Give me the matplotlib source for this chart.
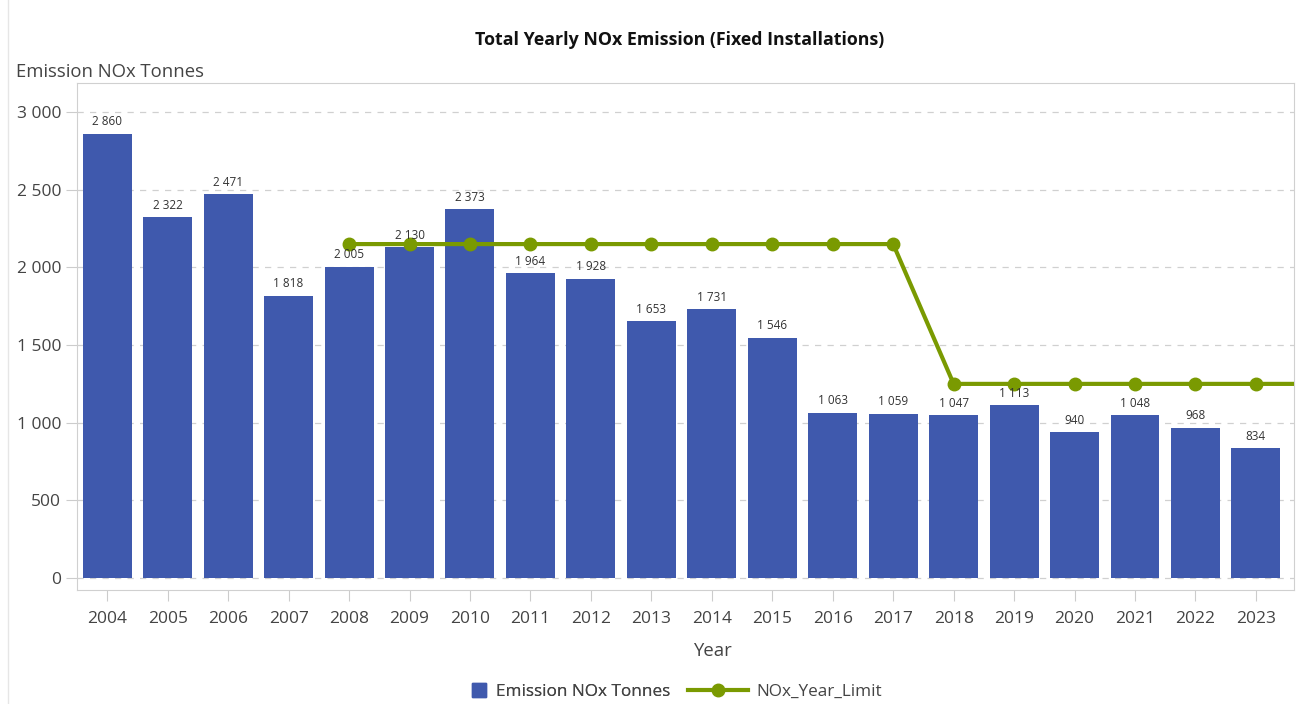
import matplotlib.pyplot as plt
from matplotlib.ticker import FuncFormatter
from matplotlib.lines import Line2D

plt.rcParams['font.family'] = ['Open Sans', 'DejaVu Sans']

years = list(range(2004, 2024))
emission = [2860, 2322, 2471, 1818, 2005, 2130, 2373, 1964, 1928, 1653,
            1731, 1546, 1063, 1059, 1047, 1113, 940, 1048, 968, 834]
limit_years = list(range(2008, 2025))
limit = [2150] * 10 + [1250] * 7

bar_color = '#3f59ad'
line_color = '#7a9a01'


def fmt(v):
    return '{:,}'.format(int(v)).replace(',', ' ')


fig = plt.figure(figsize=(12.96, 7.04), dpi=100)
ax = fig.add_axes([77 / 1296, 1 - 590 / 704, (1294 - 77) / 1296, (590 - 83) / 704])

x = [y - 2004 for y in years]
ax.bar(x, emission, width=0.81, color=bar_color, zorder=2)
for xi, v in zip(x, emission):
    ax.text(xi, v + 35, fmt(v), ha='center', va='bottom', fontsize=8.5, color='#333333', zorder=4)

lx = [y - 2004 for y in limit_years]
ax.plot(lx, limit, color=line_color, lw=3, marker='o', ms=9, zorder=3)

ax.set_xlim(-0.5, 19.63)
ax.set_ylim(-77, 3187)
ax.set_xticks(x)
ax.set_xticklabels([str(y) for y in years])
ax.set_yticks([0, 500, 1000, 1500, 2000, 2500, 3000])
ax.yaxis.set_major_formatter(FuncFormatter(lambda v, p: fmt(v)))
ax.tick_params(axis='both', labelsize=12.5, colors='#cccccc', labelcolor='#444444', length=8)
ax.tick_params(axis='x', pad=7)
ax.grid(axis='y', color='#d0d0d0', linestyle=(0, (5, 5)), lw=0.9, zorder=0)
for s in ax.spines.values():
    s.set_color('#d0d0d0')

fig.text(680 / 1296, 1 - 40 / 704, 'Total Yearly NOx Emission (Fixed Installations)',
         ha='center', va='center', fontsize=12.8, fontweight='bold', color='#111111')
fig.text(16 / 1296, 1 - 72 / 704, 'Emission NOx Tonnes', ha='left', va='center',
         fontsize=13.3, color='#444444')
fig.text(712 / 1296, 1 - 651 / 704, 'Year', ha='center', va='center', fontsize=13.3, color='#444444')

bar_handle = Line2D([], [], color=bar_color, lw=0, marker='s', ms=10, label='Emission NOx Tonnes')
line_handle = Line2D([], [], color=line_color, lw=3, marker='o', ms=9, label='NOx_Year_Limit')
leg1 = fig.legend(handles=[bar_handle], loc='center', bbox_to_anchor=(570 / 1296, 1 - 692 / 704),
                  frameon=False, fontsize=12.3, labelcolor='#444444', handlelength=1,
                  handletextpad=0.5)
fig.legend(handles=[line_handle], loc='center', bbox_to_anchor=(785 / 1296, 1 - 692 / 704),
           frameon=False, fontsize=12.3, labelcolor='#444444', handlelength=3.5,
           handletextpad=0.5)
fig.add_artist(leg1)

fig.add_artist(Line2D([8 / 1296, 8 / 1296], [0, 1], color='#e6e6e6', lw=1))

fig.savefig('out.png', dpi=100)
